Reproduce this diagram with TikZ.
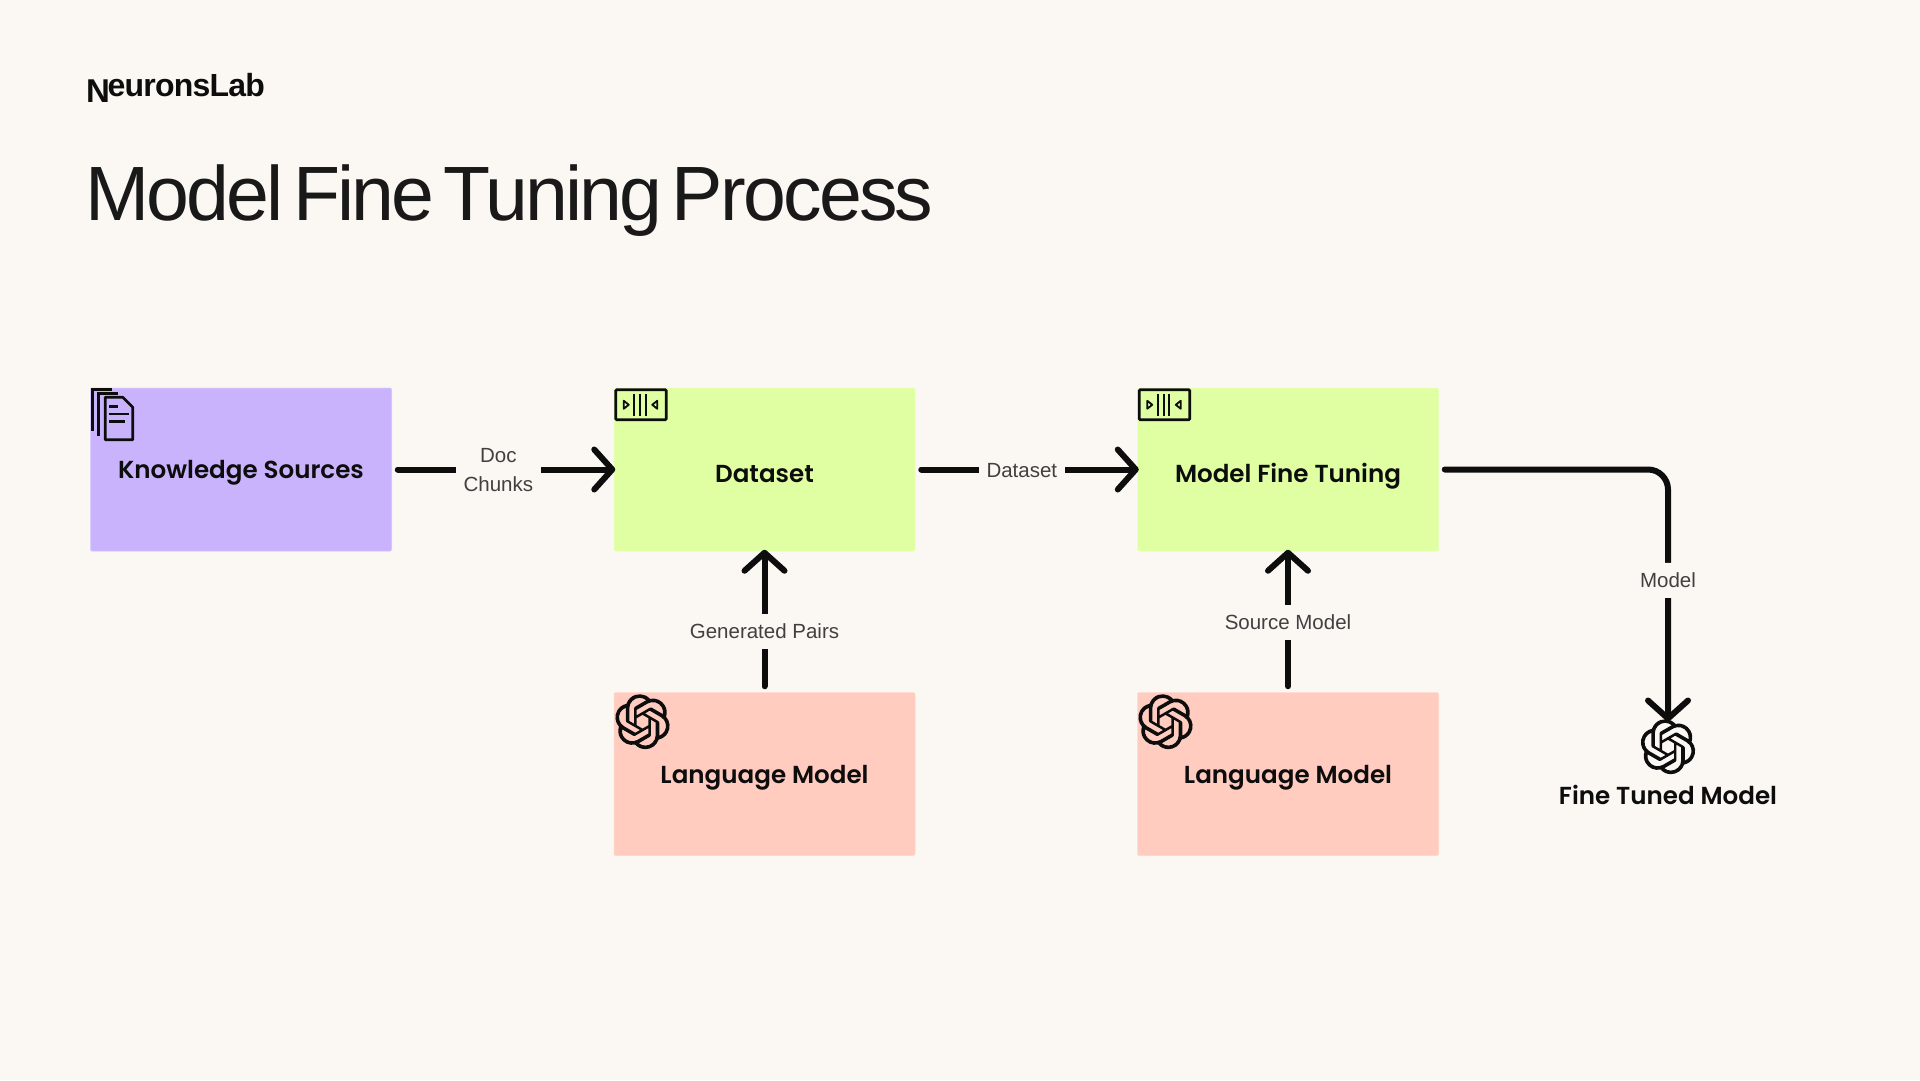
\documentclass[tikz,border=0pt]{standalone}
\usepackage{fontspec}
\setmainfont{Liberation Sans}
\newfontfamily\boxfont{Poppins SemiBold}
\newfontfamily\titlefont[LetterSpace=-3.6,WordSpace=0.5]{Liberation Sans}
\newfontfamily\logofont[LetterSpace=-2.5]{Liberation Sans Bold}
\usetikzlibrary{arrows.meta,svg.path}
\definecolor{pagebg}{HTML}{FBF8F3}
\definecolor{inkblack}{HTML}{0D0D0D}
\definecolor{purplebox}{HTML}{C9B3FC}
\definecolor{greenbox}{HTML}{E0FFA3}
\definecolor{redbox}{HTML}{FFCCBF}
\tikzset{
  stage/.style={minimum width=302pt,minimum height=164pt,inner sep=0pt,rounded corners=2pt,
    draw=white,draw opacity=.35,line width=1.5pt,text height=#1,text depth=0pt,
    font=\boxfont\fontsize{24.6}{30}\selectfont,text=inkblack},
  flow/.style={line width=6pt,color=inkblack,shorten <=5pt,shorten >=-2.5pt,line cap=round,
    -{Straight Barb[length=18pt,width=40pt,round]}},
  flowlabel/.style={fill=pagebg,text=black!75,font=\fontsize{20.5}{29}\selectfont,align=center,
    inner xsep=7.5pt,inner ysep=0pt,minimum height=35pt,yshift=-1pt},
  iconline/.style={line width=2.6pt,color=inkblack},
  knot/.pic={
    \fill[inkblack,scale=2.29,yscale=-1,shift={(-12pt,-12pt)}] svg {M22.2819 9.8211a5.9847 5.9847 0 0 0-.5157-4.9108 6.0462 6.0462 0 0 0-6.5098-2.9A6.0651 6.0651 0 0 0 4.9807 4.1818a5.9847 5.9847 0 0 0-3.9977 2.9 6.0462 6.0462 0 0 0 .7427 7.0966 5.98 5.98 0 0 0 .511 4.9107 6.051 6.051 0 0 0 6.5146 2.9001A5.9847 5.9847 0 0 0 13.2599 24a6.0557 6.0557 0 0 0 5.7718-4.2058 5.9894 5.9894 0 0 0 3.9977-2.9001 6.0557 6.0557 0 0 0-.7475-7.0729z
    M13.2599 22.4292a4.4755 4.4755 0 0 1-2.8764-1.0408l.1419-.0804 4.7783-2.7582a.7948.7948 0 0 0 .3927-.6813v-6.7369l2.02 1.1686a.071.071 0 0 1 .038.052v5.5826a4.504 4.504 0 0 1-4.4945 4.4944z
    M3.5992 18.3038a4.4708 4.4708 0 0 1-.5346-3.0137l.142.0852 4.783 2.7582a.7712.7712 0 0 0 .7806 0l5.8428-3.3685v2.3324a.0804.0804 0 0 1-.0332.0615L9.74 19.9502a4.4992 4.4992 0 0 1-6.1408-1.6464z
    M2.3408 7.8956a4.485 4.485 0 0 1 2.3655-1.9728V11.6a.7664.7664 0 0 0 .3879.6765l5.8144 3.3543-2.0201 1.1685a.0757.0757 0 0 1-.071 0l-4.8303-2.7865A4.504 4.504 0 0 1 2.3408 7.872z
    M18.9371 11.7514L13.1038 8.364 15.1192 7.2a.0757.0757 0 0 1 .071 0l4.8303 2.7913a4.4944 4.4944 0 0 1-.6765 8.1042v-5.6772a.79.79 0 0 0-.407-.667z
    M20.9478 8.7283l-.142-.0852-4.7735-2.7818a.7759.7759 0 0 0-.7854 0L9.409 9.2297V6.8974a.0662.0662 0 0 1 .0284-.0615l4.8303-2.7866a4.4992 4.4992 0 0 1 6.6802 4.66z
    M8.3065 12.863l-2.02-1.1638a.0804.0804 0 0 1-.038-.0567V6.0742a4.4992 4.4992 0 0 1 7.3757-3.4537l-.142.0805L8.704 5.459a.7948.7948 0 0 0-.3927.6813z
    M9.4041 10.4976l2.602-1.4998 2.6069 1.4998v2.9994l-2.5974 1.4997-2.6067-1.4997Z};
  },
  framebars/.pic={
    \draw[iconline,rounded corners=1pt] (3,3) rectangle (53.5,33);
    \draw[iconline,line width=2pt] (21.5,7) -- (21.5,29) (27.5,7) -- (27.5,29) (33,7) -- (33,29);
    \draw[iconline,line width=1.8pt,line join=round] (11,14) -- (16,18) -- (11,22) -- cycle;
    \draw[iconline,line width=1.8pt,line join=round] (44.5,14) -- (39.5,18) -- (44.5,22) -- cycle;
  },
  docstack/.pic={
    \draw[iconline] (3.5,44) -- (3.5,2.5) -- (22.5,2.5);
    \draw[iconline] (9.5,49) -- (9.5,6.5) -- (28.5,6.5);
    \draw[iconline,fill=purplebox,line join=round] (16,53) -- (16,10.5) -- (33.5,10.5) -- (43.5,20.5) -- (43.5,53) -- cycle;
    \draw[iconline] (20,20) -- (28.5,20) (20,27.3) -- (40,27.3) (20,34.6) -- (36,34.6);
  }
}

\begin{document}
\begin{tikzpicture}[x=1pt,y=-1pt]
\useasboundingbox[fill=pagebg] (0,0) rectangle (1920,1080);

% Logo and title
\node[anchor=base west,inner sep=0pt,text=inkblack,font=\logofont\fontsize{33}{33}\selectfont] (logoN) at (86,102.5) {N};
\node[anchor=base west,inner sep=0pt,text=inkblack,font=\logofont\fontsize{32}{32}\selectfont] (logoname) at (107.5,96) {euronsLab};
\node[anchor=base west,inner sep=0pt,text=black!90,font=\titlefont\fontsize{77}{77}\selectfont] (title) at (85,220) {Model Fine Tuning Process};

% Boxes
\node[stage=18pt,fill=purplebox] (sources) at (241,469.5) {Knowledge Sources};
\node[stage=26pt,fill=greenbox] (dataset) at (764.5,469.5) {Dataset};
\node[stage=26pt,fill=greenbox] (tuning) at (1288,469.5) {Model Fine Tuning};
\node[stage=18.5pt,fill=redbox] (langleft) at (764.5,774) {Language Model};
\node[stage=18.5pt,fill=redbox] (langright) at (1288,774) {Language Model};

% Final model
\node[minimum size=55pt,inner sep=0pt] (fineicon) at (1668,746.7) {};
\node[inner sep=0pt,text=inkblack,font=\boxfont\fontsize{24.6}{30}\selectfont] (finetuned) at (1668,795) {Fine Tuned Model};

% Icons
\pic at (sources.north west) {docstack};
\pic at (dataset.north west) {framebars};
\pic at (tuning.north west) {framebars};
\pic at (642.5,721.7) {knot};
\pic at (1165.5,721.7) {knot};
\pic at (fineicon) {knot};

% Connectors
\draw[flow] (sources) -- node[flowlabel,pos=.48] (doclabel) {Doc\\Chunks} (dataset);
\draw[flow] (dataset) -- node[flowlabel,pos=.48] (datalabel) {Dataset} (tuning);
\draw[flow] (langleft) -- node[flowlabel,pos=.44] (pairlabel) {Generated Pairs} (dataset);
\draw[flow] (langright) -- node[flowlabel,pos=.505] (srclabel) {Source Model} (tuning);
\draw[flow,rounded corners=20pt] (tuning) -| node[flowlabel,pos=.72] (modellabel) {Model} (fineicon.north);

\end{tikzpicture}
\end{document}
